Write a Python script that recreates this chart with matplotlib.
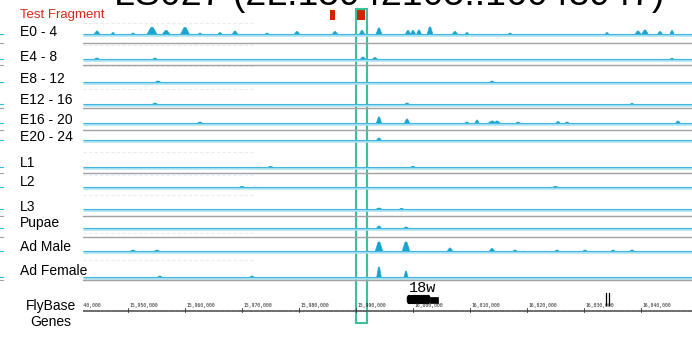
import matplotlib.pyplot as plt
from matplotlib.patches import Rectangle, Polygon, FancyBboxPatch
from matplotlib.lines import Line2D

# figure size in pixels (dpi 100)
W, H = 692, 347

# genomic window shown by the tracks (bp)
X0, X1 = 15942105, 16048947

title = "LS027 (2L:15942105..16048947)"

track_labels = ["E0 - 4", "E4 - 8", "E8 - 12", "E12 - 16", "E16 - 20", "E20 - 24",
                "L1", "L2", "L3", "Pupae", "Ad Male", "Ad Female"]

# peaks per track: (position bp, height, width bp)
e0_4 = [(15944560, 3, 900), (15947370, 1.5, 600), (15950880, 1, 600),
        (15954210, 6.5, 1700), (15956700, 3.5, 1300), (15960000, 6.5, 1500),
        (15962630, 1, 600), (15966140, 1.5, 700), (15968770, 3, 900),
        (15974390, 1, 600), (15979650, 2.5, 900), (15986320, 2.5, 900),
        (15991050, 3.5, 900), (15994030, 6, 1000), (15999120, 3.5, 900),
        (16000000, 3.5, 800), (16001050, 4, 800), (16002980, 7, 1000),
        (16007370, 2.5, 900), (16009470, 1.5, 600), (16017020, 1, 600),
        (16034040, 1.5, 600), (16039480, 3, 1000), (16040700, 4, 1100),
        (16043330, 2.5, 800), (16045440, 3.5, 700)]
e4_8 = [(15944560, 1, 800), (15954740, 1, 700), (15991220, 2, 900),
        (15993330, 1.5, 800), (16045440, 0.8, 600)]
e8_12 = [(15955260, 1, 900), (16013860, 1, 700)]
e12_16 = [(15954740, 1, 800), (15998950, 1, 700), (16038420, 0.6, 600)]
e16_20 = [(15962630, 1, 800), (15994030, 6, 900), (15998950, 4, 900),
          (16009470, 1, 700), (16011230, 3, 700), (16013860, 2, 1200),
          (16014740, 2, 1000), (16018420, 1, 700), (16025440, 1.5, 700),
          (16027020, 1, 700), (16046490, 2, 800)]
e20_24 = [(15994030, 2, 800)]
l1 = [(15975000, 0.6, 800), (16000000, 0.5, 700)]
l2 = [(15970000, 0.6, 800), (16025000, 0.5, 700)]
l3 = [(15994030, 1, 900), (15998000, 0.6, 700)]
pupae = [(15994030, 2, 800), (15998770, 1, 700)]
ad_male = [(15950880, 1, 800), (15955090, 1, 800), (15994030, 9, 1300),
           (15998770, 9, 1300), (16006490, 3, 900), (16013860, 2.5, 900),
           (16017900, 1, 700), (16025260, 1, 700), (16030180, 1, 700),
           (16035090, 1, 700), (16038420, 1, 700)]
ad_female = [(15994030, 10, 800), (15998770, 6, 700), (15955600, 1, 700),
             (15971750, 1, 700)]

tracks = [e0_4, e4_8, e8_12, e12_16, e16_20, e20_24,
          l1, l2, l3, pupae, ad_male, ad_female]

# layout rows (pixels from top)
label_rows = [32, 57, 79, 100, 120, 137, 163, 182, 207, 223, 247, 271]
baseline_rows = [34, 59, 82, 104, 123, 140, 167, 187, 209, 228, 251, 277]
separator_rows = [43, 65, 108, 130, 173, 216, 237, 280]
faint_rows = [23, 45, 66, 89, 152, 175, 195, 233, 260]

# test fragment boxes (bp)
fragments = [(15985440, 15986320), (15990170, 15991580)]
highlight = (15990000, 15991930)

# gene models
gene_name = "18w"
gene_thick = (15999000, 16003000)
gene_thin = (16003000, 16004390)
small_features = [16033860, 16034390]

ruler_ticks = list(range(15940000, 16050000, 10000))

fig = plt.figure(figsize=(W / 100, H / 100), dpi=100)
fig.patch.set_facecolor("white")
ax = fig.add_axes([83 / W, 0, 1 - 83 / W, 1])
ax.set_xlim(X0, X1)
ax.set_ylim(H, 0)
ax.axis("off")


def ftext(x, y, s, **kw):
    fig.text(x / W, 1 - y / H, s, **kw)


peak_color = "#18a3d0"

# faint scale guides left over at the start of some tracks
for row in faint_rows:
    ax.plot([X0, 15972000], [row, row], color="#e6ecf0", lw=0.8, ls=(0, (3, 2)))

for base, peaks in zip(baseline_rows, tracks):
    ax.plot([X0, X1], [base + 1, base + 1], color="#a9e1f0", lw=1.8, solid_capstyle="butt")
    ax.plot([X0, X1], [base, base], color="#3fb7de", lw=0.8, solid_capstyle="butt")
    for pos, h, w in peaks:
        xs = [pos - w / 2, pos - w * 0.12, pos + w * 0.12, pos + w / 2]
        ys = [base, base - h, base - h, base]
        ax.add_patch(Polygon(list(zip(xs, ys)), closed=True, facecolor=peak_color,
                             edgecolor=peak_color, lw=0.4))

for row in separator_rows:
    ax.plot([X0, X1], [row, row], color="#a3a3a3", lw=1.0)

# little marks on the left edge
for row in baseline_rows:
    fig.add_artist(Line2D([0, 3 / W], [1 - row / H] * 2, color="#3fb7de", lw=0.8))
for row in separator_rows:
    fig.add_artist(Line2D([0, 3 / W], [1 - row / H] * 2, color="#a3a3a3", lw=0.8))

# labels
for lab, row in zip(track_labels, label_rows):
    ftext(20, row, lab, fontsize=10, family="Liberation Sans", va="center", ha="left")
ftext(20, 15, "Test Fragment", fontsize=9.5, family="Liberation Sans",
      color="#d9261c", va="center", ha="left")
ftext(51, 306, "FlyBase", fontsize=10, family="Liberation Sans", va="center", ha="center")
ftext(51, 322, "Genes", fontsize=10, family="Liberation Sans", va="center", ha="center")

ftext(389, 5, title, fontsize=27, family="Liberation Sans", va="baseline", ha="center")

# test fragments and highlight window
for a, b in fragments:
    ax.add_patch(Rectangle((a, 10), b - a, 10, facecolor="#d42200", edgecolor="none"))
ax.add_patch(Rectangle((highlight[0], 9), highlight[1] - highlight[0], 314,
                       facecolor="none", edgecolor="#3ebf9c", lw=1.5))

# ruler
ruler_y = 311
ax.plot([X0, X1], [ruler_y, ruler_y], color="#444444", lw=1.1)
for t in range(15940000, 16050000, 1000):
    ax.plot([t, t], [ruler_y - 1, ruler_y], color="#888888", lw=0.4)
for t in ruler_ticks:
    ax.plot([t, t], [ruler_y - 3, ruler_y + 1], color="#333333", lw=0.6)
    ax.text(t + 200, ruler_y - 3, f"{t:,}", fontsize=3.4, family="DejaVu Sans Mono",
            ha="left", va="bottom", color="#222222", clip_on=True)

# gene models
ax.add_patch(FancyBboxPatch((gene_thick[0], 295.5), gene_thick[1] - gene_thick[0], 8,
                            boxstyle="round,pad=0,rounding_size=300",
                            mutation_aspect=0.01,
                            facecolor="black", edgecolor="black", lw=0.8))
ax.add_patch(Rectangle((gene_thin[0], 297), gene_thin[1] - gene_thin[0], 6,
                       facecolor="black", edgecolor="black", lw=0.5))
ax.text((gene_thick[0] + gene_thin[1]) / 2, 288, gene_name, fontsize=11,
        family="Liberation Mono", ha="center", va="center")
for p in small_features:
    ax.plot([p, p], [293, 305], color="black", lw=0.9)

fig.savefig("out.png", dpi=100)
